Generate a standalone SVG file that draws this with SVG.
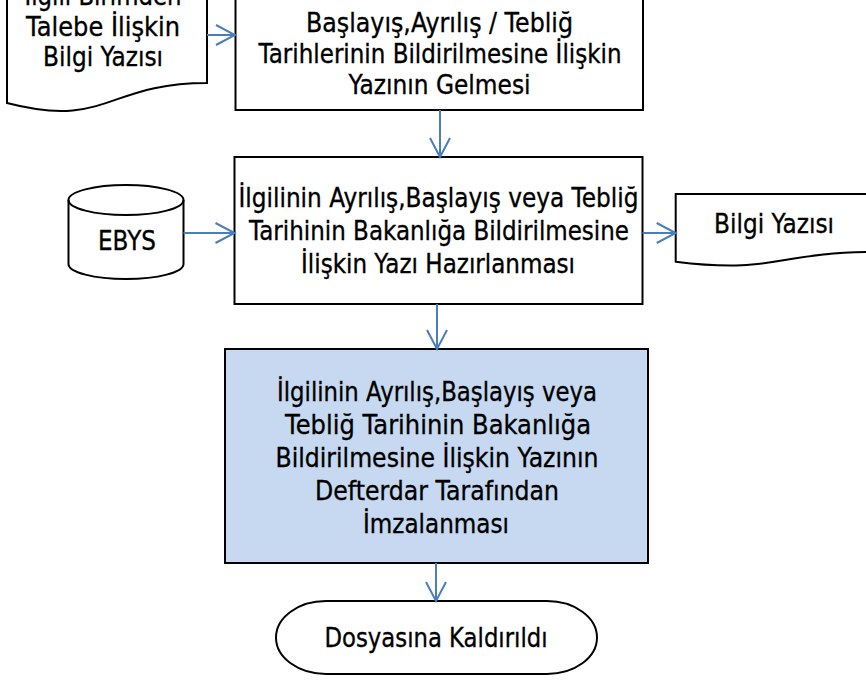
<svg xmlns="http://www.w3.org/2000/svg" width="866" height="681" viewBox="0 0 866 681">
<style>
.shape{fill:#fff;stroke:#000;stroke-width:2}
.rim{fill:none;stroke:#000;stroke-width:2}
.blue{fill:#C6D9F1}
.t{font-family:"DejaVu Sans","Liberation Sans",sans-serif;font-size:26px;fill:#000;stroke:#000;stroke-width:0.35;text-anchor:middle}
.c{fill:none;stroke:#4A7EBB;stroke-width:2;marker-end:url(#ah)}
</style>
<defs>
<marker id="ah" markerUnits="userSpaceOnUse" viewBox="0 0 22 22" markerWidth="22" markerHeight="22" refX="20" refY="11" orient="auto">
<path d="M1,1 L20,11 L1,21" fill="none" stroke="#4A7EBB" stroke-width="2"/>
</marker>
</defs>
<rect width="866" height="681" fill="#fff"/>

<g id="doc-talep">
<path class="shape" d="M7,-40 L207,-40 L207,83 C107,83 107,129 7,103 Z"/>
<text class="t" x="103" y="5" textLength="157" lengthAdjust="spacingAndGlyphs">İlgili Birimden</text>
<text class="t" x="103" y="36" textLength="154" lengthAdjust="spacingAndGlyphs">Talebe İlişkin</text>
<text class="t" x="103" y="66" textLength="120" lengthAdjust="spacingAndGlyphs">Bilgi Yazısı</text>
</g>

<g id="box-gelme">
<rect class="shape" x="235.5" y="-20" width="407.5" height="130"/>
<text class="t" x="439.5" y="32" textLength="267" lengthAdjust="spacingAndGlyphs">Başlayış,Ayrılış / Tebliğ</text>
<text class="t" x="440" y="63" textLength="363" lengthAdjust="spacingAndGlyphs">Tarihlerinin Bildirilmesine İlişkin</text>
<text class="t" x="439.5" y="94" textLength="182" lengthAdjust="spacingAndGlyphs">Yazının Gelmesi</text>
</g>

<g id="ebys">
<path class="shape" d="M68.5,200 L68.5,264 A57.5,15 0 0 0 183.5,264 L183.5,200 A57.5,15 0 0 0 68.5,200 Z"/>
<path class="rim" d="M68.5,200 A57.5,15 0 0 0 183.5,200"/>
<text class="t" x="127" y="250" textLength="58" lengthAdjust="spacingAndGlyphs">EBYS</text>
</g>

<g id="box-hazirlama">
<rect class="shape" x="234.5" y="157" width="408" height="147"/>
<text class="t" x="438.5" y="207" textLength="400" lengthAdjust="spacingAndGlyphs">İlgilinin Ayrılış,Başlayış veya Tebliğ</text>
<text class="t" x="439" y="240" textLength="380" lengthAdjust="spacingAndGlyphs">Tarihinin Bakanlığa Bildirilmesine</text>
<text class="t" x="438" y="273" textLength="274" lengthAdjust="spacingAndGlyphs">İlişkin Yazı Hazırlanması</text>
</g>

<g id="doc-bilgi">
<path class="shape" d="M675.7,194 L876,194 L876,252 C776,252 776,274.3 675.7,261.7 Z"/>
<text class="t" x="774" y="233" textLength="120" lengthAdjust="spacingAndGlyphs">Bilgi Yazısı</text>
</g>

<g id="box-imza">
<rect class="shape blue" x="225" y="349" width="423" height="214"/>
<text class="t" x="437" y="401" textLength="320" lengthAdjust="spacingAndGlyphs">İlgilinin Ayrılış,Başlayış veya</text>
<text class="t" x="438" y="434" textLength="306" lengthAdjust="spacingAndGlyphs">Tebliğ Tarihinin Bakanlığa</text>
<text class="t" x="437" y="467" textLength="323" lengthAdjust="spacingAndGlyphs">Bildirilmesine İlişkin Yazının</text>
<text class="t" x="437" y="500" textLength="244" lengthAdjust="spacingAndGlyphs">Defterdar Tarafından</text>
<text class="t" x="436" y="533" textLength="146" lengthAdjust="spacingAndGlyphs">İmzalanması</text>
</g>

<g id="terminal">
<rect class="shape" x="276" y="601" width="321" height="73" rx="50" ry="36.5"/>
<text class="t" x="436" y="647" textLength="223" lengthAdjust="spacingAndGlyphs">Dosyasına Kaldırıldı</text>
</g>

<g id="connectors">
<line class="c" x1="207" y1="35" x2="235" y2="35"/>
<line class="c" x1="440" y1="110" x2="440" y2="157"/>
<line class="c" x1="183.5" y1="233" x2="234.5" y2="233"/>
<line class="c" x1="642.5" y1="233" x2="675.7" y2="233"/>
<line class="c" x1="437" y1="304" x2="437" y2="349"/>
<line class="c" x1="436" y1="563" x2="436" y2="601"/>
</g>
</svg>
